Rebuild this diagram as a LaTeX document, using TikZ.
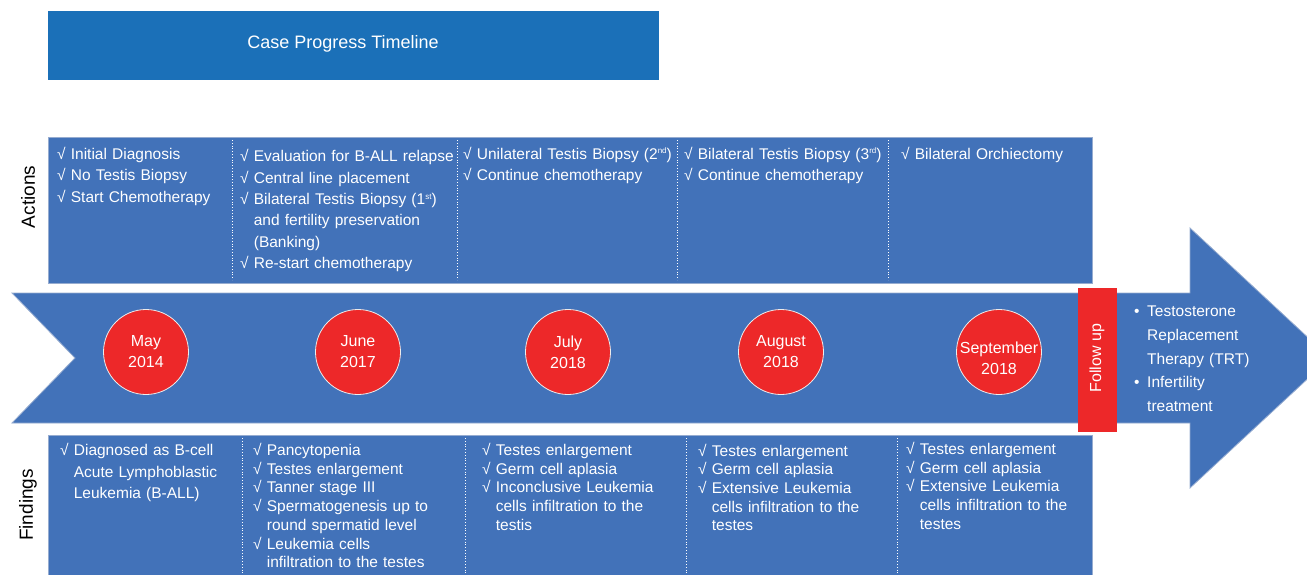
\documentclass[tikz,border=0pt]{standalone}
\usepackage{fontspec}
\setmainfont{Liberation Sans}
\setlength{\parindent}{0pt}
\definecolor{boxblue}{RGB}{66,114,185}
\definecolor{titleblue}{RGB}{27,112,184}
\definecolor{edgeblue}{RGB}{150,172,208}
\definecolor{datered}{RGB}{237,40,41}
\newcommand{\chk}{√\ }
\newcommand{\hng}{\leavevmode\phantom{√\ }}
\newcommand{\ord}[1]{\raisebox{5.5pt}{\fontsize{8}{8}\selectfont #1}}
\begin{document}
\begin{tikzpicture}[x=1pt,y=-1pt]
% Styles
\tikzstyle{panel}=[fill=boxblue,draw=edgeblue,line width=0.8pt]
\tikzstyle{divider}=[white,dotted,line width=0.8pt]
\tikzstyle{rowname}=[rotate=90,font=\fontsize{19}{22}\selectfont]
\tikzstyle{itemtext}=[anchor=base west,inner sep=0pt,text=white,text width=240pt,align=left]
\tikzstyle{actfont}=[font=\fontsize{15.5}{21.5}\selectfont]
\tikzstyle{findfont}=[font=\fontsize{15.5}{18.7}\selectfont]
\tikzstyle{datecircle}=[circle,minimum size=85pt,inner sep=0pt,fill=datered,draw=white!85!gray,line width=0.8pt,text=white,align=center,font=\fontsize{16}{21}\selectfont]
% Dimensions
\def\gauche{48}
\def\droite{1092}
\def\hautA{137}
\def\basA{283}
\def\hautF{435}
\def\basF{580}
\def\ligne{352}
\useasboundingbox (0,0) rectangle (1307,575);
% Title
\fill[titleblue] (48,11) rectangle (659,80);
\node[text=white,font=\fontsize{18}{22}\selectfont] (title) at (343,44) {Case Progress Timeline};
% Actions row
\draw[panel] (\gauche,\hautA) rectangle (\droite,\basA);
\draw[divider] (232,\hautA+3) -- (232,\basA-3);
\draw[divider] (457,\hautA+3) -- (457,\basA-3);
\draw[divider] (677,\hautA+3) -- (677,\basA-3);
\draw[divider] (888,\hautA+3) -- (888,\basA-3);
\node[rowname] (actions) at (28,197) {Actions};
\node[itemtext,actfont] (act1) at (57,159.5) {\chk Initial Diagnosis\\ \chk No Testis Biopsy\\ \chk Start Chemotherapy};
\node[itemtext,actfont] (act2) at (240,161.5) {\chk Evaluation for B-ALL relapse\\ \chk Central line placement\\ \chk Bilateral Testis Biopsy (1\ord{st})\\ \hng and fertility preservation\\ \hng (Banking)\\ \chk Re-start chemotherapy};
\node[itemtext,actfont] (act3) at (463,159.5) {\chk Unilateral Testis Biopsy (2\ord{nd})\\ \chk Continue chemotherapy};
\node[itemtext,actfont] (act4) at (684,159.5) {\chk Bilateral Testis Biopsy (3\ord{rd})\\ \chk Continue chemotherapy};
\node[itemtext,actfont] (act5) at (901,159.5) {\chk Bilateral Orchiectomy};
% Timeline arrow
\draw[fill=boxblue,draw=edgeblue,line width=0.8pt] (12,293) -- (1190,293) -- (1190,228) -- (1330,358) -- (1190,488) -- (1190,423) -- (12,423) -- (75,358) -- cycle;
\node[datecircle] (may) at (146,\ligne) {May\\2014};
\node[datecircle] (june) at (358,\ligne) {June\\2017};
\node[datecircle] (july) at (568,\ligne) {July\\2018};
\node[datecircle] (aug) at (781,\ligne) {August\\2018};
\node[datecircle] (sept) at (999,\ligne) {};
\node[text=white,align=center,font=\fontsize{16}{21}\selectfont] (septtext) at (999,358) {September\\2018};
% Follow up
\fill[datered] (1078,288) rectangle (1117,432);
\node[rotate=90,text=white,font=\fontsize{16}{20}\selectfont] (follow) at (1097,358) {Follow up};
\node[itemtext,font=\fontsize{15.5}{23.8}\selectfont] (treat) at (1134,316.5) {\makebox[13pt][l]{•}Testosterone\\ \hspace*{13pt}Replacement\\ \hspace*{13pt}Therapy (TRT)\\ \makebox[13pt][l]{•}Infertility\\ \hspace*{13pt}treatment};
% Findings row
\draw[panel] (\gauche,\hautF) rectangle (\droite,\basF);
\draw[divider] (242,\hautF+3) -- (242,\basF);
\draw[divider] (465,\hautF+3) -- (465,\basF);
\draw[divider] (686,\hautF+3) -- (686,\basF);
\draw[divider] (897,\hautF+3) -- (897,\basF);
\node[rowname] (findings) at (28,505) {Findings};
\node[itemtext,font=\fontsize{15.5}{21.5}\selectfont] (find1) at (60,455.5) {\chk Diagnosed as B-cell\\ \hng Acute Lymphoblastic\\ \hng Leukemia (B-ALL)};
\node[itemtext,findfont] (find2) at (253,455.5) {\chk Pancytopenia\\ \chk Testes enlargement\\ \chk Tanner stage III\\ \chk Spermatogenesis up to\\ \hng round spermatid level\\ \chk Leukemia cells\\ \hng infiltration to the testes};
\node[itemtext,findfont] (find3) at (482,455.5) {\chk Testes enlargement\\ \chk Germ cell aplasia\\ \chk Inconclusive Leukemia\\ \hng cells infiltration to the\\ \hng testis};
\node[itemtext,findfont] (find4) at (698,456) {\chk Testes enlargement\\ \chk Germ cell aplasia\\ \chk Extensive Leukemia\\ \hng cells infiltration to the\\ \hng testes};
\node[itemtext,findfont] (find5) at (906,454.5) {\chk Testes enlargement\\ \chk Germ cell aplasia\\ \chk Extensive Leukemia\\ \hng cells infiltration to the\\ \hng testes};
\end{tikzpicture}
\end{document}
